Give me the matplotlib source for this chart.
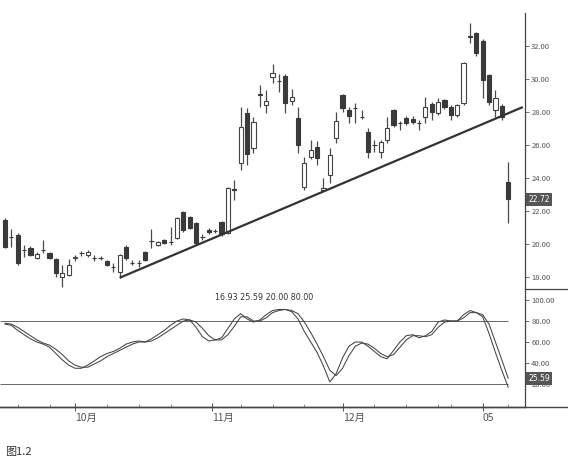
import matplotlib
matplotlib.use("Agg")
import matplotlib.pyplot as plt
from matplotlib.patches import Rectangle
from matplotlib.lines import Line2D
import matplotlib.transforms as mtransforms

plt.rcParams['font.family'] = ['Noto Sans CJK SC', 'DejaVu Sans']

# ---- data ----
opens = [21.45, 20.45, 20.55, 19.66, 19.76, 19.15, 19.62, 19.45, 19.09, 18.00,
         18.12, 19.12, 19.43, 19.33, 19.17, 19.17, 18.97, 18.63, 18.30, 19.82,
         18.87, 18.87, 19.52, 20.20, 19.94, 20.24, 20.14, 20.36, 21.94, 21.64,
         21.27, 20.44, 20.85, 20.80, 21.33, 20.67, 23.36, 24.91, 27.94, 25.82,
         29.12, 28.42, 30.12, 29.90, 30.18, 28.67, 27.64, 23.45, 25.27, 25.88,
         23.30, 24.18, 26.42, 29.03, 28.12, 28.26, 27.72, 26.79, 26.02, 25.58,
         26.30, 28.12, 27.35, 27.64, 27.60, 27.35, 27.70, 28.48, 27.94, 28.73,
         28.30, 27.82, 28.55, 32.58, 32.79, 32.30, 30.24, 28.12, 28.36, 23.76]
highs = [21.55, 20.91, 20.65, 19.94, 19.85, 19.50, 20.24, 19.50, 19.15, 18.73,
         19.09, 19.35, 19.60, 19.65, 19.33, 19.30, 19.05, 18.85, 19.40, 19.95,
         19.00, 19.00, 19.60, 20.91, 20.20, 20.30, 21.03, 21.65, 22.00, 21.70,
         21.35, 20.60, 20.95, 20.90, 21.40, 23.45, 23.88, 28.30, 28.24, 27.70,
         29.64, 29.33, 30.91, 30.30, 30.30, 29.39, 28.30, 25.27, 26.30, 26.24,
         24.00, 25.82, 28.00, 29.10, 28.30, 28.55, 28.12, 27.00, 26.30, 26.30,
         27.70, 28.20, 27.45, 27.75, 27.75, 27.50, 28.90, 28.60, 28.85, 28.80,
         28.40, 28.50, 31.05, 33.39, 32.85, 32.40, 30.30, 29.33, 28.50, 24.97]
lows = [19.75, 19.82, 18.75, 19.21, 19.25, 19.10, 19.45, 19.10, 18.00, 17.39,
        18.05, 18.95, 19.30, 19.20, 18.95, 19.00, 18.65, 18.30, 17.95, 19.05,
        18.70, 18.60, 18.95, 19.76, 19.85, 20.00, 19.94, 20.30, 20.75, 20.90,
        19.95, 20.25, 20.60, 20.65, 20.50, 20.60, 22.67, 24.48, 24.79, 25.52,
        28.30, 27.94, 29.76, 29.21, 27.94, 28.42, 25.52, 23.30, 25.15, 24.79,
        23.25, 23.70, 26.10, 28.00, 27.33, 27.33, 27.60, 25.20, 25.60, 25.20,
        26.10, 27.10, 26.90, 27.20, 27.30, 26.90, 27.33, 27.50, 27.80, 28.20,
        27.52, 27.70, 28.45, 32.18, 31.40, 28.85, 28.40, 27.70, 27.50, 21.27]
closes = [19.82, 20.40, 18.85, 19.62, 19.33, 19.39, 19.66, 19.15, 18.24, 18.24,
          18.73, 19.18, 19.47, 19.52, 19.13, 19.13, 18.73, 18.59, 19.33, 19.15,
          18.83, 18.83, 19.03, 20.16, 20.12, 20.06, 20.10, 21.58, 20.85, 20.97,
          20.06, 20.40, 20.70, 20.76, 20.61, 23.39, 23.30, 27.09, 25.45, 27.39,
          29.06, 28.67, 30.36, 29.86, 28.55, 28.91, 26.00, 24.91, 25.70, 25.21,
          23.40, 25.39, 27.45, 28.24, 27.76, 28.22, 27.68, 25.58, 25.98, 26.18,
          27.03, 27.21, 27.31, 27.33, 27.40, 27.31, 28.30, 28.00, 28.61, 28.30,
          27.82, 28.42, 30.97, 32.52, 31.58, 29.94, 28.61, 28.85, 27.70, 22.72]

stoch_k = [77, 76, 71, 67, 63, 60, 58, 55, 49, 43,
           38, 35, 35, 38, 42, 46, 49, 51, 54, 58,
           60, 61, 60, 63, 67, 71, 76, 80, 82, 81,
           74, 65, 61, 62, 64, 73, 82, 87, 82, 79,
           81, 86, 90, 91, 91, 89, 82, 70, 60, 50,
           37, 22, 30, 45, 56, 60, 60, 56, 51, 46,
           44, 52, 60, 66, 67, 64, 66, 70, 79, 81,
           80, 80, 86, 90, 88, 84, 68, 50, 33, 16.93]
stoch_d = [78, 77, 74, 70, 66, 62, 59, 57, 53, 48,
           42, 38, 36, 36, 39, 42, 46, 49, 52, 55,
           58, 60, 60, 61, 64, 68, 72, 76, 80, 81,
           79, 73, 66, 62, 62, 67, 75, 84, 84, 80,
           80, 83, 88, 90, 91, 90, 87, 79, 69, 58,
           46, 33, 28, 35, 47, 56, 59, 58, 54, 49,
           46, 48, 55, 62, 66, 66, 65, 67, 74, 79,
           80, 80, 83, 88, 88, 86, 77, 60, 43, 25.59]
levels = [20.00, 80.00]

# trendline endpoints (candle index, price)
trend_x = [18, 81.3]
trend_y = [17.95, 28.30]

price_ticks = [18, 20, 22, 24, 26, 28, 30, 32]
osc_ticks = [20, 40, 60, 80, 100]
month_pos = [11, 32.5, 53, 75]
month_labels = ['10月', '11月', '12月', '05']
week_pos = [2, 7, 16, 21, 26, 37, 42, 47, 58, 63, 68, 70, 79]

# ---- figure ----
W, H = 568, 466
fig = plt.figure(figsize=(W / 100, H / 100), dpi=100)
fig.patch.set_facecolor('white')

right_px = 525
ax1 = fig.add_axes([0, 1 - 289 / H, right_px / W, 289 / H])
ax2 = fig.add_axes([0, 1 - 407 / H, right_px / W, 118 / H])

xlim = (-0.785, 81.64)
dark = '#3a3a3a'
edge = '#444444'

n = len(closes)
bw = 0.66
for i in range(n):
    o, h, l, c = opens[i], highs[i], lows[i], closes[i]
    ax1.vlines(i, l, h, color='#4a4a4a', lw=0.9, zorder=2)
    lo, hi = min(o, c), max(o, c)
    hgt = max(hi - lo, 0.03)
    if c < o:
        rect = Rectangle((i - bw / 2, lo), bw, hgt, facecolor=dark,
                         edgecolor=dark, lw=0.8, zorder=3)
    else:
        rect = Rectangle((i - bw / 2, lo), bw, hgt, facecolor='white',
                         edgecolor=edge, lw=0.8, zorder=3)
    ax1.add_patch(rect)

ax1.plot(trend_x, trend_y, color='#333333', lw=1.6, zorder=4, solid_capstyle='butt')

ax1.set_xlim(*xlim)
ax1.set_ylim(17.27, 34.79)
ax1.set_xticks([])
ax1.yaxis.tick_right()
ax1.set_yticks(price_ticks)
ax1.set_yticklabels(['%.2f' % t for t in price_ticks])
ax1.tick_params(axis='y', length=3, width=0.6, color='#555555', labelsize=5.5,
                labelcolor='#555555', pad=1.5)
for s in ['left', 'top', 'bottom']:
    ax1.spines[s].set_visible(False)
ax1.spines['right'].set_color('#444444')
ax1.spines['right'].set_linewidth(0.9)
ax1.spines['right'].set_bounds(17.27, 34.0)

# last price box
trans1 = mtransforms.blended_transform_factory(ax1.transAxes, ax1.transData)
ax1.text(1.006, closes[-1], '%.2f' % closes[-1], transform=trans1, fontsize=5.5,
         color='white', va='center', ha='left', family='DejaVu Sans',
         bbox=dict(boxstyle='square,pad=0.25', facecolor='#555555',
                   edgecolor='none'), zorder=5)

# ---- oscillator ----
xs = list(range(n))
ax2.hlines(levels, xlim[0], n - 1, color='#666666', lw=0.7)
ax2.plot(xs, stoch_k, color='#444444', lw=0.75)
ax2.plot(xs, stoch_d, color='#444444', lw=0.75)
ax2.set_xlim(*xlim)
ax2.set_ylim(-1.9, 110.5)
ax2.yaxis.tick_right()
ax2.set_yticks(osc_ticks)
ax2.set_yticklabels(['%.2f' % t for t in osc_ticks])
ax2.tick_params(axis='y', length=3, width=0.6, color='#555555', labelsize=5.5,
                labelcolor='#555555', pad=1.5)
ax2.set_xticks(month_pos)
ax2.set_xticklabels(month_labels, ha='left')
ax2.set_xticks(week_pos, minor=True)
ax2.tick_params(axis='x', which='major', direction='inout', length=6, width=0.7,
                color='#555555', labelsize=7.5, labelcolor='#555555', pad=1)
ax2.tick_params(axis='x', which='minor', direction='in', length=2, width=0.6,
                color='#777777')
for s in ['left', 'top']:
    ax2.spines[s].set_visible(False)
ax2.spines['right'].set_color('#444444')
ax2.spines['right'].set_linewidth(0.9)
ax2.spines['bottom'].set_color('#444444')
ax2.spines['bottom'].set_linewidth(1.0)

trans2 = mtransforms.blended_transform_factory(ax2.transAxes, ax2.transData)
ax2.text(1.006, stoch_d[-1], '%.2f' % stoch_d[-1], transform=trans2, fontsize=5.5,
         color='white', va='center', ha='left', family='DejaVu Sans',
         bbox=dict(boxstyle='square,pad=0.25', facecolor='#555555',
                   edgecolor='none'), zorder=5)

fig.text(215 / W, 1 - 297 / H,
         '%.2f %.2f %.2f %.2f' % (stoch_k[-1], stoch_d[-1], levels[0], levels[1]),
         fontsize=5.8, color='#333333', va='center', ha='left', family='DejaVu Sans')

# full-width bottom line and separator at right
fig.add_artist(Line2D([0, 1], [1 - 407 / H, 1 - 407 / H], color='#444444', lw=1.0))
fig.add_artist(Line2D([right_px / W, 1], [1 - 289 / H, 1 - 289 / H], color='#444444', lw=0.9))

fig.text(5 / W, 1 - 452 / H, '图1.2', fontsize=8, color='#333333', va='center', ha='left')

fig.savefig('out.png', dpi=100, facecolor='white')
